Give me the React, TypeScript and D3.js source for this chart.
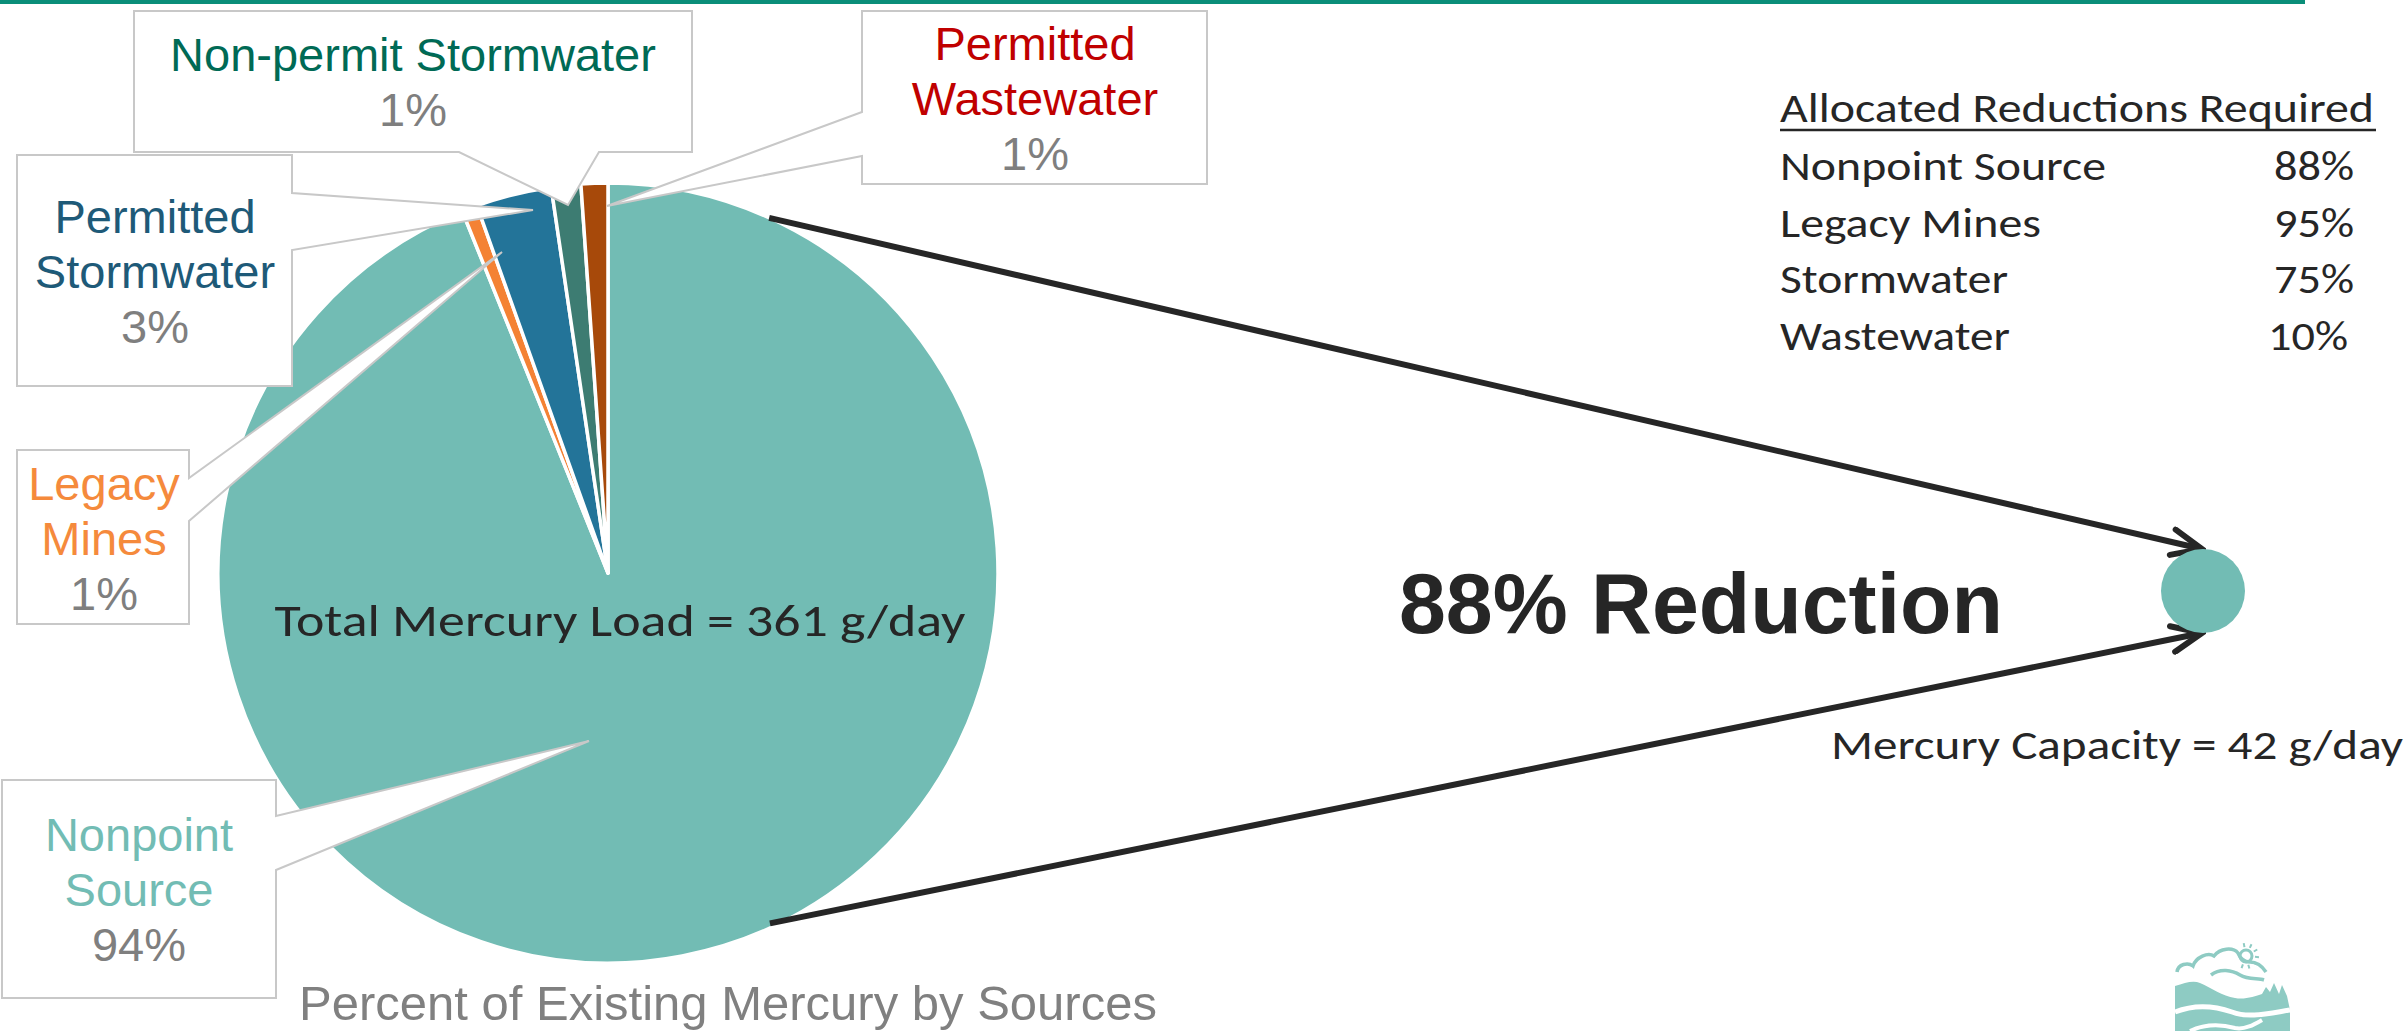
import React, { useEffect, useRef } from 'react';
import * as d3 from 'd3';

// mercury loads by source, g/day (total 361)
const sources = ['Nonpoint Source', 'Legacy Mines', 'Permitted Stormwater', 'Non-permit Stormwater', 'Permitted Wastewater'];
const loads = [339.0, 2.3, 11.3, 4.4, 4.0];
const sliceColors = ['#72bcb4', '#f48234', '#237499', '#3d7c72', '#a7490a'];
const labelColors = ['#72bcb4', '#f58a3c', '#1e5a78', '#006a55', '#c00000'];
const labelLines = [['Nonpoint', 'Source'], ['Legacy', 'Mines'], ['Permitted', 'Stormwater'], ['Non-permit Stormwater'], ['Permitted', 'Wastewater']];

const totalLoad = 361;
const capacityLoad = 42;
const overallReduction = 88;

const reductionCategories = ['Nonpoint Source', 'Legacy Mines', 'Stormwater', 'Wastewater'];
const reductionPercents = [88, 95, 75, 10];

const W = 2407;
const H = 1031;

interface Callout {
  box: [number, number, number, number];
  side: 'left' | 'right' | 'bottom';
  base: [number, number];
  tip: [number, number];
  cx: number;
  y0: number;
}

// callout box layout, same order as sources
const callouts: Callout[] = [
  { box: [2, 780, 274, 218], side: 'right', base: [816, 870], tip: [589, 741], cx: 139, y0: 851 },
  { box: [17, 450, 172, 174], side: 'right', base: [478, 521], tip: [502, 252], cx: 104, y0: 500 },
  { box: [17, 155, 275, 231], side: 'right', base: [193, 250], tip: [533, 210], cx: 155, y0: 233 },
  { box: [134, 11, 558, 141], side: 'bottom', base: [459, 599], tip: [568, 205], cx: 413, y0: 71 },
  { box: [862, 11, 345, 173], side: 'left', base: [112, 156], tip: [607, 206], cx: 1035, y0: 60 },
];

function calloutPath(c: Callout) {
  const [x, y, w, h] = c.box;
  const p = d3.path();
  p.moveTo(x, y);
  p.lineTo(x + w, y);
  if (c.side === 'right') {
    p.lineTo(x + w, c.base[0]);
    p.lineTo(c.tip[0], c.tip[1]);
    p.lineTo(x + w, c.base[1]);
  }
  p.lineTo(x + w, y + h);
  if (c.side === 'bottom') {
    p.lineTo(c.base[1], y + h);
    p.lineTo(c.tip[0], c.tip[1]);
    p.lineTo(c.base[0], y + h);
  }
  p.lineTo(x, y + h);
  if (c.side === 'left') {
    p.lineTo(x, c.base[1]);
    p.lineTo(c.tip[0], c.tip[1]);
    p.lineTo(x, c.base[0]);
  }
  p.closePath();
  return p.toString();
}

const ARIAL = '"Liberation Sans", Arial, sans-serif';
const CALIBRI = 'Carlito, Calibri, Lato, sans-serif';

const App: React.FC = () => {
  const svgRef = useRef<SVGSVGElement | null>(null);

  useEffect(() => {
    if (!svgRef.current) return;
    const svg = d3.select(svgRef.current);
    svg.selectAll('*').remove();

    const cx = 608;
    const cy = 573;
    const r = 390;

    // top rule
    svg.append('rect').attr('x', 0).attr('y', 0).attr('width', 2305).attr('height', 4).attr('fill', '#0a8e79');

    // pie
    const pie = d3.pie<number>().sort(null).value((d) => d);
    const arc = d3.arc<d3.PieArcDatum<number>>().innerRadius(0).outerRadius(r);
    const arcs = pie(loads);
    const g = svg.append('g').attr('transform', `translate(${cx},${cy})`);
    g.selectAll('path')
      .data(arcs)
      .enter()
      .append('path')
      .attr('d', arc)
      .attr('fill', (_d, i) => sliceColors[i])
      .attr('stroke', '#fff')
      .attr('stroke-width', 3.5)
      .attr('stroke-linejoin', 'round');

    svg.append('text')
      .attr('x', 620).attr('y', 636)
      .attr('text-anchor', 'middle')
      .attr('font-family', CALIBRI).attr('font-size', 45)
      .attr('fill', '#262626')
      .attr('textLength', 691).attr('lengthAdjust', 'spacingAndGlyphs')
      .text(`Total Mercury Load = ${totalLoad} g/day`);

    // callouts
    callouts.forEach((c, i) => {
      svg.append('path')
        .attr('d', calloutPath(c))
        .attr('fill', '#fff')
        .attr('stroke', '#c8c8c8')
        .attr('stroke-width', 2);
      const t = svg.append('text')
        .attr('font-family', ARIAL).attr('font-size', 47)
        .attr('text-anchor', 'middle');
      labelLines[i].forEach((ln, j) => {
        t.append('tspan').attr('x', c.cx).attr('y', c.y0 + j * 55).attr('fill', labelColors[i]).text(ln);
      });
      const pct = Math.round((loads[i] / d3.sum(loads)) * 100);
      t.append('tspan').attr('x', c.cx).attr('y', c.y0 + labelLines[i].length * 55).attr('fill', '#7f7f7f').text(`${pct}%`);
    });

    svg.append('text')
      .attr('x', 728).attr('y', 1020)
      .attr('text-anchor', 'middle')
      .attr('font-family', ARIAL).attr('font-size', 49)
      .attr('fill', '#808080')
      .text('Percent of Existing Mercury by Sources');

    // capacity circle and arrows
    const capX = 2203;
    const capY = 591;
    const capR = 42;

    const defs = svg.append('defs');
    defs.append('marker')
      .attr('id', 'vhead')
      .attr('markerUnits', 'userSpaceOnUse')
      .attr('viewBox', '-34 -16 38 32')
      .attr('refX', 0).attr('refY', 0)
      .attr('markerWidth', 38).attr('markerHeight', 32)
      .attr('orient', 'auto')
      .append('path')
      .attr('d', 'M-30,-13L0,0L-30,13')
      .attr('fill', 'none')
      .attr('stroke', '#262626')
      .attr('stroke-width', 6)
      .attr('stroke-linecap', 'round')
      .attr('stroke-linejoin', 'miter');

    const polar = (deg: number, rad: number): [number, number] => {
      const a = (deg * Math.PI) / 180;
      return [cx + rad * Math.sin(a), cy - rad * Math.cos(a)];
    };
    const arrows: [[number, number], [number, number]][] = [
      [polar(24.4, r), [capX - 1, capY - capR]],
      [polar(155.2, r - 4), [capX - 1, capY + capR]],
    ];
    arrows.forEach(([s, e]) => {
      svg.append('line')
        .attr('x1', s[0]).attr('y1', s[1]).attr('x2', e[0]).attr('y2', e[1])
        .attr('stroke', '#262626').attr('stroke-width', 6)
        .attr('marker-end', 'url(#vhead)');
    });

    svg.append('circle').attr('cx', capX).attr('cy', capY).attr('r', capR).attr('fill', '#72bcb4');

    svg.append('text')
      .attr('x', 1399).attr('y', 633)
      .attr('font-family', ARIAL).attr('font-size', 85).attr('font-weight', 'bold')
      .attr('fill', '#262626')
      .attr('textLength', 604).attr('lengthAdjust', 'spacingAndGlyphs')
      .text(`${overallReduction}% Reduction`);

    svg.append('text')
      .attr('x', 1831).attr('y', 759)
      .attr('font-family', CALIBRI).attr('font-size', 42)
      .attr('fill', '#262626')
      .attr('textLength', 572).attr('lengthAdjust', 'spacingAndGlyphs')
      .text(`Mercury Capacity = ${capacityLoad} g/day`);

    // allocated reductions table
    const tx = 1780;
    svg.append('text')
      .attr('x', tx).attr('y', 122)
      .attr('font-family', CALIBRI).attr('font-size', 41)
      .attr('fill', '#262626')
      .attr('textLength', 594).attr('lengthAdjust', 'spacingAndGlyphs')
      .text('Allocated Reductions Required');
    svg.append('line').attr('x1', tx).attr('x2', 2376).attr('y1', 130).attr('y2', 130)
      .attr('stroke', '#262626').attr('stroke-width', 2.5);

    const rowWidths = [326, 261, 228, 230];
    const rowY = d3.scalePoint<string>().domain(reductionCategories).range([180, 350]);
    reductionCategories.forEach((name, i) => {
      const y = rowY(name) as number;
      svg.append('text')
        .attr('x', tx).attr('y', y)
        .attr('font-family', CALIBRI).attr('font-size', 41)
        .attr('fill', '#262626')
        .attr('textLength', rowWidths[i]).attr('lengthAdjust', 'spacingAndGlyphs')
        .text(name);
      svg.append('text')
        .attr('x', i === 3 ? 2348 : 2354).attr('y', y)
        .attr('text-anchor', 'end')
        .attr('font-family', CALIBRI).attr('font-size', 41)
        .attr('fill', '#262626')
        .attr('textLength', 80).attr('lengthAdjust', 'spacingAndGlyphs')
        .text(`${reductionPercents[i]}%`);
    });

    // logo (partially visible at bottom right)
    const logo = svg.append('g').attr('fill', 'none').attr('stroke', '#8ecbc3');
    logo.append('path')
      .attr('d', 'M2177,972 C2178,964 2188,962 2193,966 C2196,957 2208,952 2214,956 C2220,948 2233,947 2238,953 C2240,958 2244,962 2250,962 C2256,962 2262,966 2266,972')
      .attr('stroke-width', 3.5);
    logo.append('path')
      .attr('d', 'M2211,975 C2220,968 2232,970 2240,975 C2248,980 2258,978 2264,980')
      .attr('stroke-width', 3.5);
    logo.append('circle').attr('cx', 2246).attr('cy', 956).attr('r', 6).attr('stroke-width', 3);
    d3.range(7).forEach((k) => {
      const a = (-100 + k * 35) * Math.PI / 180;
      logo.append('line')
        .attr('x1', 2246 + 9 * Math.cos(a)).attr('y1', 956 + 9 * Math.sin(a))
        .attr('x2', 2246 + 13 * Math.cos(a)).attr('y2', 956 + 13 * Math.sin(a))
        .attr('stroke-width', 2);
    });
    svg.append('path')
      .attr('d', 'M2175,1031 L2175,986 C2185,983 2193,980 2200,983 C2212,988 2222,996 2235,998 C2245,1000 2255,996 2262,994 L2266,987 L2270,992 L2274,983 L2279,994 L2282,985 L2287,996 L2290,1010 L2290,1031 Z')
      .attr('fill', '#8ecbc3');
    svg.append('path')
      .attr('d', 'M2175,1012 C2195,1004 2215,1006 2232,1012 C2248,1018 2265,1014 2290,1010')
      .attr('fill', 'none').attr('stroke', '#fff').attr('stroke-width', 5);
    svg.append('path')
      .attr('d', 'M2190,1031 C2205,1024 2220,1024 2235,1028 C2245,1030 2255,1024 2262,1020')
      .attr('fill', 'none').attr('stroke', '#fff').attr('stroke-width', 4);
  }, []);

  return (
    <svg
      ref={svgRef}
      width={W}
      height={H}
      style={{ position: 'absolute', left: 0, top: 0, display: 'block', background: '#fff' }}
    ></svg>
  );
};

export default App;
